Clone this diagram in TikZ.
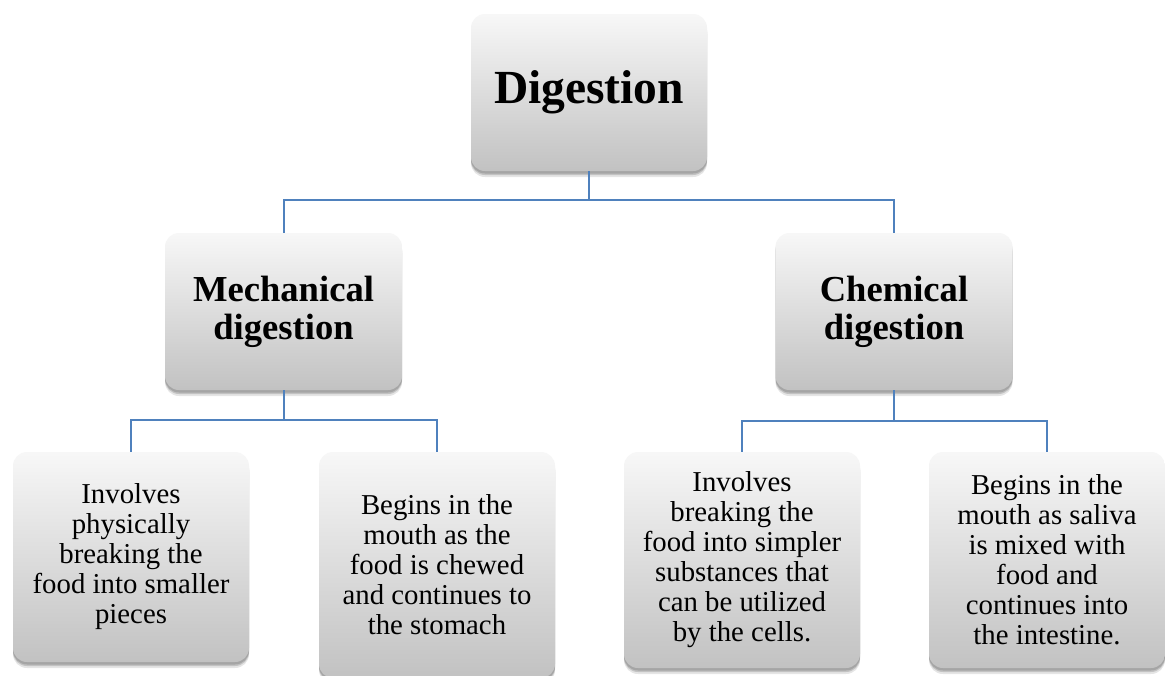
\documentclass[tikz,border=0pt]{standalone}
\usepackage{fontspec}
\setmainfont{Liberation Serif}
\usetikzlibrary{shadows}
\definecolor{connblue}{HTML}{4F81BD}
\begin{document}
\begin{tikzpicture}[x=1pt,y=-1pt,
  box/.style={rounded corners=14pt, draw=none, inner sep=0pt, align=center,
    top color=black!3, bottom color=black!24,
    general shadow={fill=black, opacity=0.10, shadow yshift=-6pt, shadow scale=1.0},
    general shadow={fill=black, opacity=0.15, shadow yshift=-4pt},
    general shadow={fill=black, opacity=0.15, shadow yshift=-2.5pt, shadow xshift=0pt}},
  topbox/.style={box, minimum width=236pt, minimum height=157pt,
    font=\fontsize{47.5}{50}\selectfont\bfseries},
  midbox/.style={box, minimum width=237pt, minimum height=157pt,
    font=\fontsize{36.6}{38}\selectfont\bfseries},
  leafbox/.style={box, minimum width=236pt, minimum height=210pt,
    font=\fontsize{28.8}{30}\selectfont},
  conn/.style={draw=connblue, line width=2pt}]
\useasboundingbox (0,0) rectangle (1165,675);
\fill[white] (0,0) rectangle (1165,675);

\node[topbox] (top) at (589,92.5) {Digestion};
\node[midbox] (mech) at (283.5,311.5) {Mechanical\\digestion};
\node[midbox] (chem) at (894,311.5) {Chemical\\digestion};

\node[leafbox] (l1) at (131,557) {Involves\\physically\\breaking the\\food into smaller\\pieces};
\node[leafbox, minimum height=226pt] (l2) at (437,565) {Begins in the\\mouth as the\\food is chewed\\and continues to\\the stomach};
\node[leafbox, minimum height=216pt] (l3) at (742,560) {Involves\\breaking the\\food into simpler\\substances that\\can be utilized\\by the cells.};
\node[leafbox, minimum height=216pt] (l4) at (1047,560) {Begins in the\\mouth as saliva\\is mixed with\\food and\\continues into\\the intestine.};

\coordinate (j1) at (589,200);
\coordinate (j2) at (283.5,420);
\coordinate (j3) at (894,421);

\draw[conn] (top.south) -- (j1);
\draw[conn] (mech.north) |- (j1) -| (chem.north);
\draw[conn] (mech.south) -- (j2);
\draw[conn] (l1.north) |- (j2) -| (l2.north);
\draw[conn] (chem.south) -- (j3);
\draw[conn] (l3.north) |- (j3) -| (l4.north);
\end{tikzpicture}
\end{document}
